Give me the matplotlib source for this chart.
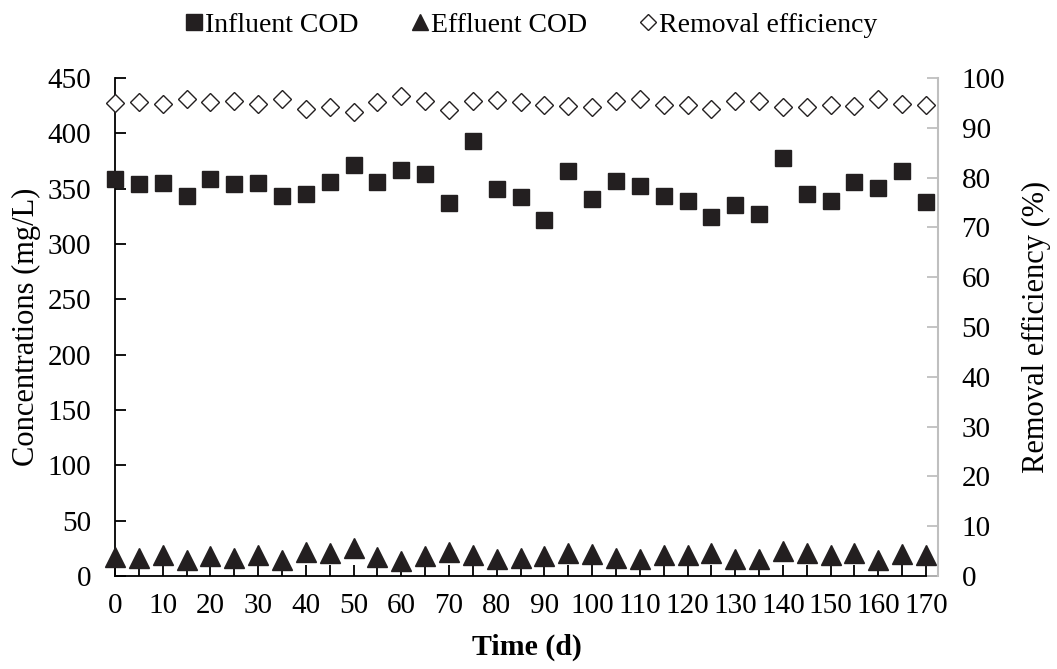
import numpy as np
import matplotlib.pyplot as plt
from matplotlib.lines import Line2D

plt.rcParams['font.family'] = ['Liberation Serif', 'DejaVu Serif']

# Time (d)
days = list(range(0, 171, 5))

# Influent COD (mg/L)
influent = [358.5, 354, 355, 343, 358.5, 354, 355, 343, 345, 356,
            371, 356, 366.5, 363, 337, 392.7, 349.5, 342.3, 321.5, 365.7,
            340.5, 356.7, 352, 343, 338.6, 324, 335, 327, 377.4, 345,
            338.6, 355.8, 350.4, 365.7, 337.7]

# Effluent COD (mg/L)
effluent = [17.6, 16.7, 18.6, 14.6, 18.2, 16.4, 18.6, 14.6, 21.9, 20.7,
            25.7, 17.6, 13.7, 18.2, 21.8, 18.6, 15.8, 16.7, 17.9, 20.7,
            19.8, 16.7, 15.8, 18.6, 18.6, 20.7, 15.8, 15.8, 22.8, 20.7,
            18.6, 20.7, 14.6, 19.8, 18.6]

# Removal efficiency (%)
removal = [94.9, 95.1, 94.8, 95.8, 95.1, 95.3, 94.8, 95.8, 93.8, 94.1,
           93.2, 95.1, 96.4, 95.3, 93.6, 95.3, 95.6, 95.1, 94.6, 94.4,
           94.2, 95.4, 95.7, 94.6, 94.5, 93.8, 95.4, 95.3, 94.2, 94.2,
           94.5, 94.3, 95.8, 94.8, 94.5]

dark = '#231F20'
grey = '#BFBFBF'

fig = plt.figure(figsize=(10.57, 6.69), dpi=100)
ax = fig.add_axes([0.1088, 0.139, 0.7786, 0.7444])
ax2 = ax.twinx()

ax.plot(days, influent, 's', color=dark, ms=12, clip_on=False, zorder=3)
ax.plot(days, effluent, '^', color=dark, ms=14, clip_on=False, zorder=3)
ax2.plot(days, removal, 'D', mfc='white', mec=dark, mew=1.0, ms=9.5,
         clip_on=False, zorder=3)

ax.set_xlim(0, 172.5)
ax.set_ylim(0, 450)
ax2.set_ylim(0, 100)
ax.set_xticks(range(0, 171, 10))
ax.set_xticks(range(0, 171, 5), minor=True)
ax.set_yticks(range(0, 451, 50))
ax2.set_yticks(range(0, 101, 10))

for a in (ax, ax2):
    a.spines['top'].set_visible(False)
ax.spines['right'].set_visible(False)
ax2.spines['left'].set_visible(False)
ax2.spines['bottom'].set_visible(False)
ax2.spines['right'].set_color(grey)
ax2.spines['right'].set_linewidth(1.5)
ax.spines['left'].set_linewidth(1.3)
ax.spines['bottom'].set_linewidth(1.3)

ax.tick_params(axis='x', which='both', direction='in', length=8, width=1.3,
               labelsize=21, pad=12)
ax.tick_params(axis='x', which='minor', labelbottom=False)
ax.tick_params(axis='y', direction='in', length=8, width=1.3,
               labelsize=21, pad=17)
ax2.tick_params(axis='y', direction='in', length=8, width=1.3, color=grey,
                labelsize=21, pad=17)

ax.set_xlabel('Time (d)', fontsize=21.5, fontweight='bold')
ax.xaxis.set_label_coords(0.5, -0.115)
ax.set_ylabel('Concentrations (mg/L)', fontsize=22)
ax.yaxis.set_label_coords(-0.09, 0.5)
ax2.set_ylabel('Removal efficiency (%)', fontsize=22)
ax2.yaxis.set_label_coords(1.102, 0.5)

handles = [
    Line2D([], [], ls='', marker='s', color=dark, ms=12),
    Line2D([], [], ls='', marker='^', color=dark, ms=12),
    Line2D([], [], ls='', marker='D', mfc='white', mec=dark, mew=1.0, ms=8),
]
fig.legend(handles, ['Influent COD', 'Effluent COD', 'Removal efficiency'],
           loc='center', bbox_to_anchor=(0.503, 0.962), ncol=3, frameon=False,
           fontsize=20, handlelength=0.6, handletextpad=0.1,
           columnspacing=1.9)

fig.savefig('out.png', dpi=100)
